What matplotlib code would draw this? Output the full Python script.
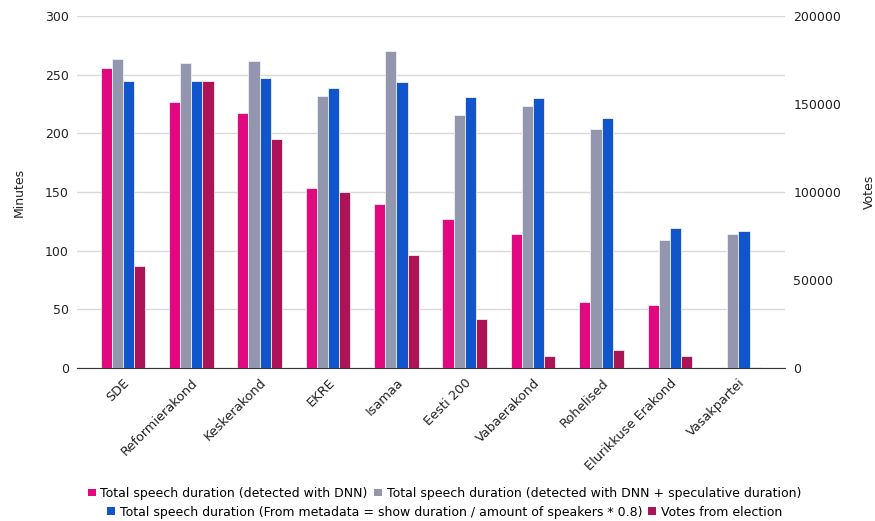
import numpy as np
import matplotlib
matplotlib.use("Agg")
import matplotlib.pyplot as plt
from matplotlib.patches import Patch

parties = ['SDE', 'Reformierakond', 'Keskerakond', 'EKRE', 'Isamaa', 'Eesti 200',
           'Vabaerakond', 'Rohelised', 'Elurikkuse Erakond', 'Vasakpartei']
dnn_minutes = [256, 227, 217, 153, 140, 127, 114, 56, 54, 0.3]
dnn_spec_minutes = [263, 260, 262, 232, 270, 216, 223, 204, 109, 114]
meta_minutes = [245, 245, 247, 239, 244, 231, 230, 213, 119, 117]
votes = [58000, 163000, 130300, 99800, 64200, 27700, 6600, 10400, 7000, 300]

series_names = ['Total speech duration (detected with DNN)',
                'Total speech duration (detected with DNN + speculative duration)',
                'Total speech duration (From metadata = show duration / amount of speakers * 0.8)',
                'Votes from election']
colors = ['#E2087F', '#9396AF', '#1155CC', '#AD1457']

fig = plt.figure(figsize=(8.75, 5.21), dpi=100)
ax = fig.add_axes([0.088, 0.2937, 0.809, 0.6756])
ax2 = ax.twinx()

x = np.arange(len(parties))
w = 0.163
for i, vals in enumerate([dnn_minutes, dnn_spec_minutes, meta_minutes]):
    ax.bar(x + (i - 1.5) * w, vals, w, color=colors[i], edgecolor='#f0f0f0',
           linewidth=0.6, zorder=3)
ax2.bar(x + 1.5 * w, votes, w, color=colors[3], edgecolor='#f0f0f0',
        linewidth=0.6, zorder=3)

ax.set_xlim(-0.67, 9.68)
ax.set_ylim(0, 300)
ax.set_yticks(range(0, 301, 50))
ax2.set_ylim(0, 200000)
ax2.set_yticks(range(0, 200001, 50000))
ax.yaxis.grid(True, color='#d9d9d9', linewidth=1, zorder=0)
ax.set_axisbelow(True)

for a in (ax, ax2):
    for s in a.spines.values():
        s.set_visible(False)
    a.tick_params(length=0, labelsize=9, colors='#222222')
ax.spines['bottom'].set_visible(True)
ax.spines['bottom'].set_color('#333333')
ax.tick_params(axis='y', pad=6)
ax2.tick_params(axis='y', pad=6)

ax.set_xticks(x)
ax.set_xticklabels(parties, rotation=45, ha='right', rotation_mode='anchor', fontsize=9.3)
ax.tick_params(axis='x', pad=6)

ax.set_ylabel('Minutes', fontsize=9, color='#222222', labelpad=14)
ax2.set_ylabel('Votes', fontsize=9, color='#222222', labelpad=16)

handles = [Patch(facecolor=c, edgecolor='none') for c in colors]
kw = dict(frameon=False, fontsize=9, handlelength=0.6, handleheight=0.6,
          handletextpad=0.4, columnspacing=0.5, borderaxespad=0, ncol=2)
fig.legend(handles[:2], series_names[:2], loc='center', bbox_to_anchor=(0.508, 0.053), **kw)
fig.legend(handles[2:], series_names[2:], loc='center', bbox_to_anchor=(0.508, 0.017), **kw)

fig.savefig('out.png', dpi=100)
